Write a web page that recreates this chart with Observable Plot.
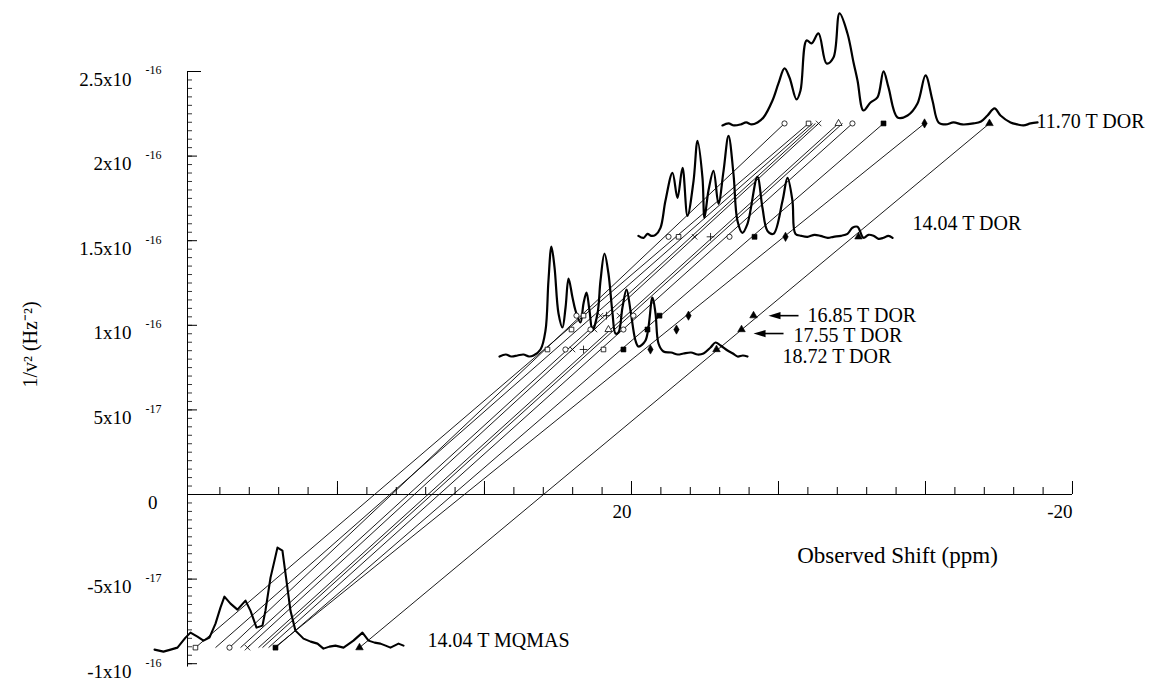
<!DOCTYPE html>
<html><head><meta charset="utf-8">
<script src="https://cdn.jsdelivr.net/npm/d3@7"></script>
<script src="https://cdn.jsdelivr.net/npm/@observablehq/plot@0.6"></script>
<style>html,body{margin:0;padding:0;background:#fff;}</style>
</head><body><div id="chart"></div>
<script>
// ---------------- DATA ----------------
// fields and their 1/nu^2 values (units of 1e-16 Hz^-2)
const fieldNames = ["11.70 T DOR", "14.04 T DOR", "16.85 T DOR", "17.55 T DOR", "18.72 T DOR", "14.04 T MQMAS"];
const fieldInvNu2 = [2.193, 1.523, 1.057, 0.975, 0.857, -0.905];

// spectra: [observed shift (ppm), intensity (a.u.)]
const spec1170 = [[11.75,-2],[11.2,0],[10.7,-2],[10.1,-1],[9.6,1],[9.1,-1],[8.57,1],[8.03,6],[7.21,23],[6.67,40],[6.12,55],[5.67,46],[5.03,24],[4.67,33],[4.12,83],[3.67,80],[3.04,90],[2.31,60],[1.68,66],[1.13,110],[0.41,90],[-0.14,61],[-0.50,43],[-1.04,13],[-1.68,21],[-2.31,26],[-2.86,52],[-3.31,36],[-4.13,6],[-5.04,8],[-5.94,20],[-6.67,48],[-7.30,23],[-7.85,1],[-8.5,-1],[-9.21,1],[-10.0,-1],[-11.02,0],[-11.7,2],[-12.29,8],[-12.93,15],[-13.47,8],[-14.38,1],[-15.0,-1],[-15.56,-2],[-16.2,0],[-16.83,1]];
const spec1404 = [[19.37,1],[18.9,-1],[18.55,3],[18.2,1],[17.82,2],[17.37,9],[16.92,36],[16.28,64],[15.83,39],[15.37,69],[14.92,21],[14.37,56],[14.01,96],[13.56,59],[13.38,19],[13.02,46],[12.56,66],[12.11,33],[11.65,66],[11.20,101],[10.75,63],[10.39,16],[9.94,4],[9.48,13],[8.58,60],[8.12,29],[7.67,6],[7.12,3],[6.30,36],[5.85,59],[5.40,36],[5.13,3],[4.6,1],[4.04,0],[3.4,2],[2.86,1],[2.2,-1],[1.68,0],[1.0,1],[0.41,3],[-0.04,9],[-0.50,10],[-1.04,-1],[-1.5,2],[-1.95,1],[-2.4,-2],[-2.86,-1],[-3.3,1],[-3.68,-1]];
const spec1872 = [[31.97,-7],[31.4,-5],[30.9,-7],[30.34,-6],[29.8,-5],[29.3,-7],[28.89,-6],[28.25,0],[27.80,19],[27.53,69],[27.26,103],[26.98,82],[26.62,36],[26.26,22],[25.98,42],[25.71,71],[25.35,52],[25.08,39],[24.63,27],[24.35,46],[24.08,57],[23.81,39],[23.54,19],[23.08,36],[22.81,69],[22.45,96],[22.09,76],[21.72,36],[21.45,16],[21.18,17],[20.82,42],[20.45,60],[20.09,39],[19.64,9],[19.37,3],[18.73,9],[18.10,52],[17.82,36],[17.55,6],[17.10,-2],[16.4,-3],[15.8,-5],[15.28,-4],[14.6,-3],[14.0,-5],[13.47,-4],[12.83,2],[12.38,7],[11.92,4],[11.29,-1],[10.8,-4],[10.38,-7],[9.9,-6],[9.48,-7]];
const specMQ = [[63.26,-2],[62.45,-4],[61.8,-2],[61.18,0],[60.45,10],[60.00,15],[59.37,11],[58.82,7],[58.28,10],[57.73,24],[57.28,40],[56.92,51],[56.37,44],[55.74,38],[55.01,47],[54.56,37],[54.01,20],[53.47,22],[53.20,37],[52.74,70],[52.38,87],[52.11,100],[51.66,97],[51.38,74],[50.93,37],[50.48,17],[49.75,9],[49.1,6],[48.48,4],[47.94,-1],[47.4,1],[46.85,2],[46.12,0],[45.6,4],[45.22,7],[44.40,15],[43.85,7],[43.3,5],[42.77,4],[42.3,2],[41.86,0],[41.13,4],[40.68,2]];

// peak positions (ppm) and marker symbols at each field
const peaks1170 = [6.12, 3.94, 3.03, 1.22, -0.04, -2.86, -6.58, -12.47];
const syms1170  = ["o","s","x","t","o","S","D","T"];
const peaks1404 = [16.64, 15.73, 14.28, 12.83, 11.11, 8.84, 6.03, -0.59];
const syms1404  = ["o","s","x","+","o","S","D","T"];
const peaks1685 = [24.99, 24.35, 22.81, 22.27, 21.09, 19.82, 17.46, 14.83, 8.93];
const syms1685  = ["o","s","x","+","x","o","S","D","T"];
const peaks1755 = [25.44, 23.72, 23.36, 22.09, 20.73, 18.55, 15.92, 10.02];
const syms1755  = ["s","o","x","t","o","S","D","T"];
const peaks1872 = [27.62, 25.99, 25.35, 24.35, 22.54, 20.73, 18.28, 12.29];
const syms1872  = ["s","o","x","+","s","S","D","T"];
const peaksMQ   = [59.55, 56.46, 54.83, 52.29, 44.67];
const symsMQ    = ["s","o","x","S","T"];

// extrapolation lines: shift at MQMAS level and at 11.70 T level (ppm)
const siteMQ   = [59.55, 56.46, 57.73, 54.83, 55.46, 53.83, 53.47, 52.92, 52.29, 52.38, 44.67];
const site1170 = [3.94, 6.12, 3.58, 3.03, 3.31, 1.22, 0.86, -0.04, -2.86, -6.58, -12.47];

// axis tick labels
const yTickValues = [2.5, 2, 1.5, 1, 0.5, 0, -0.5, -1];
const yTickMantissa = ["2.5x10", "2x10", "1.5x10", "1x10", "5x10", "0", "-5x10", "-1x10"];
const yTickExponent = ["-16", "-16", "-16", "-16", "-17", "", "-17", "-16"];
const xTickValues = [20, -20];
const xTickLabels = ["20", "-20"];

// ---------------- LAYOUT ----------------
const W = 1154, H = 681;
const pxPerPpm = 11.025, pxPerUnit = 169.2;
const xAxisLeft = 60.27, xAxisRight = -20;
const font = "Liberation Serif";

const fy = name => fieldInvNu2[fieldNames.indexOf(name)];
const specTable = [];
[["11.70 T DOR", spec1170], ["14.04 T DOR", spec1404], ["18.72 T DOR", spec1872], ["14.04 T MQMAS", specMQ]]
  .forEach(([f, s]) => s.forEach(([p, a]) => specTable.push({field: f, ppm: p, y: fy(f) + a / pxPerUnit})));
const dorSpec = specTable.filter(d => d.field !== "14.04 T MQMAS");
const mqSpec = specTable.filter(d => d.field === "14.04 T MQMAS");

const markerTable = [];
[["11.70 T DOR", peaks1170, syms1170], ["14.04 T DOR", peaks1404, syms1404], ["16.85 T DOR", peaks1685, syms1685],
 ["17.55 T DOR", peaks1755, syms1755], ["18.72 T DOR", peaks1872, syms1872], ["14.04 T MQMAS", peaksMQ, symsMQ]]
  .forEach(([f, ps, ss]) => ps.forEach((p, i) => markerTable.push({field: f, ppm: p, y: fy(f), sym: ss[i]})));
const filledSyms = new Set(["S", "D", "T"]);

const siteTable = siteMQ.map((b, i) => ({x1: b, y1: fy("14.04 T MQMAS"), x2: site1170[i], y2: fy("11.70 T DOR")}));

const xMinor = d3.range(0, 30).map(i => -20 + i * 40 / 15);
const xMajor = d3.range(0, 6).map(i => -20 + i * 40 / 3);
const yMinor = d3.range(0, 71).map(i => -1 + i * 0.05);
const yMajor = yTickValues;

const yLabTable = yTickValues.map((v, i) => ({v, m: yTickMantissa[i], e: yTickExponent[i]}));

// field labels (start ppm, vertical offset in px)
const labelStart = [-16.74, -5.49, 4.04, 5.30, 6.30, 38.50];
const labelDy = [-2, -13, 0, 6, 7, -7];
const labelTable = fieldNames.map((f, i) => ({t: f, x: labelStart[i], y: fy(f) - labelDy[i] / pxPerUnit}));

const arrowTable = [
  {tail: 4.85, tip: 7.57, y: fy("16.85 T DOR") - 0 / pxPerUnit},
  {tail: 6.21, tip: 8.93, y: fy("17.55 T DOR") - 4 / pxPerUnit}
];
const leftHead = {draw(ctx) { ctx.moveTo(0, 0); ctx.lineTo(12, -3.6); ctx.lineTo(12, 3.6); ctx.closePath(); }};

const chart = Plot.plot({
  width: W, height: H,
  marginLeft: 187, marginRight: 54, marginTop: 0, marginBottom: 0,
  x: {domain: [60.27, -22.54], axis: null},
  y: {domain: [-187 / pxPerUnit, 494 / pxPerUnit], axis: null},
  symbol: {domain: ["o","s","x","+","t","S","D","T"], range: ["circle","square","times","plus","triangle","square","diamond","triangle"]},
  style: {fontFamily: font, background: "white", color: "black", overflow: "visible"},
  marks: [
    // axes
    Plot.ruleY([0], {x1: xAxisLeft, x2: xAxisRight, stroke: "black", strokeWidth: 1}),
    Plot.ruleX([xAxisLeft], {y1: -1.02, y2: 2.5, stroke: "black", strokeWidth: 1}),
    Plot.ruleX(xMinor, {y1: 0, y2: 7 / pxPerUnit, stroke: "black", strokeWidth: 1}),
    Plot.ruleX(xMajor, {y1: 0, y2: 13 / pxPerUnit, stroke: "black", strokeWidth: 1}),
    Plot.ruleY(yMinor, {x1: xAxisLeft, x2: xAxisLeft - 5 / pxPerPpm, stroke: "black", strokeWidth: 0.8}),
    Plot.ruleY(yMajor, {x1: xAxisLeft, x2: xAxisLeft - 10 / pxPerPpm, stroke: "black", strokeWidth: 1}),
    Plot.ruleY([2.5], {x1: xAxisLeft, x2: xAxisLeft - 14 / pxPerPpm, stroke: "black", strokeWidth: 1}),
    // y tick labels
    Plot.text(yLabTable.filter(d => d.e), {x: xAxisLeft, y: "v", text: "m", textAnchor: "end", dx: -56, dy: 8, fontSize: 19, fontFamily: font, fill: "black"}),
    Plot.text(yLabTable.filter(d => d.e), {x: xAxisLeft, y: "v", text: "e", textAnchor: "start", dx: -42, dy: -1, fontSize: 12, fontFamily: font, fill: "black"}),
    Plot.text(yLabTable.filter(d => !d.e), {x: xAxisLeft, y: "v", text: "m", textAnchor: "end", dx: -30, dy: 8, fontSize: 19, fontFamily: font, fill: "black"}),
    // x tick labels
    Plot.text(xTickValues, {x: d => d, y: 0, text: (d, i) => xTickLabels[i], textAnchor: "end", dy: 17, fontSize: 19, fontFamily: font, fill: "black"}),
    // axis titles
    Plot.text(["Observed Shift (ppm)"], {x: -4.13, y: -61 / pxPerUnit, text: d => d, fontSize: 23, fontFamily: font, fill: "black"}),
    Plot.text(["1/v\u00B2 (Hz\u207B\u00B2)"], {x: 74.5, y: 150 / pxPerUnit, text: d => d, rotate: -90, fontSize: 20, fontFamily: font, fill: "black"}),
    // extrapolation lines
    Plot.link(siteTable, {x1: "x1", y1: "y1", x2: "x2", y2: "y2", stroke: "black", strokeWidth: 0.9}),
    // spectra
    Plot.line(dorSpec, {x: "ppm", y: "y", z: "field", curve: "catmull-rom", stroke: "black", strokeWidth: 2.2, strokeLinejoin: "round"}),
    Plot.line(mqSpec, {x: "ppm", y: "y", z: "field", curve: "linear", stroke: "black", strokeWidth: 2.1, strokeLinejoin: "round"}),
    // markers
    Plot.dot(markerTable.filter(d => !filledSyms.has(d.sym)), {x: "ppm", y: "y", symbol: "sym", r: 2.6, fill: "white", stroke: "black", strokeWidth: 0.8}),
    Plot.dot(markerTable.filter(d => filledSyms.has(d.sym)), {x: "ppm", y: "y", symbol: "sym", r: 2.8, fill: "black", stroke: "black", strokeWidth: 0.6}),
    // field labels
    Plot.text(labelTable, {x: "x", y: "y", text: "t", textAnchor: "start", fontSize: 20, fontFamily: font, fill: "black"}),
    // arrows
    Plot.link(arrowTable, {x1: "tail", x2: d => d.tip - 10 / pxPerPpm, y1: "y", y2: "y", stroke: "black", strokeWidth: 1.6}),
    Plot.dot(arrowTable, {x: "tip", y: "y", symbol: leftHead, fill: "black", stroke: "none"})
  ]
});
document.getElementById("chart").appendChild(chart);
</script>
</body></html>
